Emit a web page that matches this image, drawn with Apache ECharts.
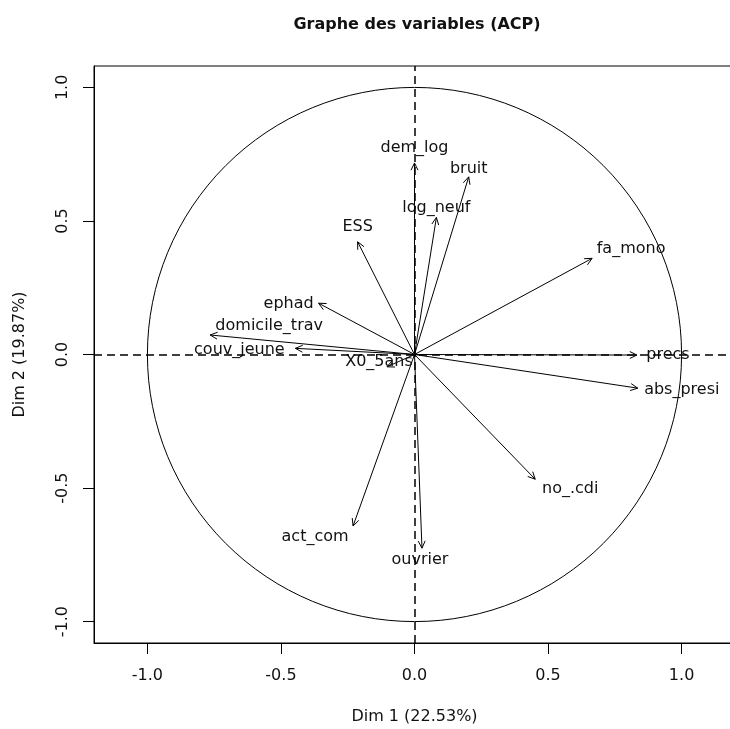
<!DOCTYPE html>
<html>
<head>
<meta charset="utf-8">
<script src="https://cdn.jsdelivr.net/npm/echarts@6/dist/echarts.min.js"></script>
<style>
  html, body { margin: 0; padding: 0; background: #fff; }
  #chart { width: 730px; height: 729px; }
</style>
</head>
<body>
<div id="chart"></div>
<script>
// variable coordinates on the first two PCA dimensions
const varNames = ['dem_log', 'bruit', 'log_neuf', 'ESS', 'fa_mono', 'precs', 'abs_presi',
  'no_.cdi', 'ouvrier', 'act_com', 'X0_5ans', 'couv_jeune', 'domicile_trav', 'ephad']
const dim1 = [0.0, 0.203, 0.082, -0.213, 0.665, 0.833, 0.836, 0.452, 0.028, -0.23, -0.103, -0.446, -0.765, -0.359]
const dim2 = [0.717, 0.665, 0.513, 0.422, 0.36, -0.002, -0.126, -0.467, -0.725, -0.642, -0.046, 0.023, 0.073, 0.192]
const tickValues = [-1, -0.5, 0, 0.5, 1]
const chartTitle = 'Graphe des variables (ACP)'
const xName = 'Dim 1 (22.53%)'
const yName = 'Dim 2 (19.87%)'

// label placement, px from the arrow tip (style only)
const labelShift = {
  dem_log: [0, -15], bruit: [0, -8], log_neuf: [0, -10], ESS: [0, -15],
  fa_mono: [39, -9], precs: [31, 0], abs_presi: [44, 2], 'no_.cdi': [35, 10],
  ouvrier: [-2, 12], act_com: [-38, 11], X0_5ans: [-8, -5], couv_jeune: [-56, 1],
  domicile_trav: [59, -9], ephad: [-30, 1],
}

const FONT = '"DejaVu Sans", sans-serif'
const arrowData = varNames.map((n, i) => [dim1[i], dim2[i], n])

function renderArrow(params, api) {
  const o = api.coord([0, 0])
  const p = api.coord([api.value(0), api.value(1)])
  const name = varNames[params.dataIndex]
  const ang = Math.atan2(p[1] - o[1], p[0] - o[0])
  const hl = 8, ha = Math.PI / 7
  const h1 = [p[0] - hl * Math.cos(ang - ha), p[1] - hl * Math.sin(ang - ha)]
  const h2 = [p[0] - hl * Math.cos(ang + ha), p[1] - hl * Math.sin(ang + ha)]
  const sh = labelShift[name] || [0, 0]
  return {
    type: 'group',
    children: [
      { type: 'line', shape: { x1: o[0], y1: o[1], x2: p[0], y2: p[1] },
        style: { stroke: '#000', lineWidth: 1 } },
      { type: 'polyline', shape: { points: [h1, p, h2] },
        style: { stroke: '#000', lineWidth: 1, fill: null } },
      { type: 'text',
        style: { text: name, x: p[0] + sh[0], y: p[1] + sh[1], fill: '#111',
          font: '16px ' + FONT, align: 'center', verticalAlign: 'middle' } },
    ],
  }
}

function renderCircle(params, api) {
  const c = api.coord([0, 0])
  const r = api.size([1, 0])[0]
  return { type: 'circle', shape: { cx: c[0], cy: c[1], r: r },
    style: { fill: null, stroke: '#000', lineWidth: 1 } }
}

const axisCommon = {
  type: 'value',
  nameLocation: 'middle',
  nameTextStyle: { color: '#111', fontSize: 16, fontFamily: FONT },
  axisLine: { show: true, onZero: false, lineStyle: { color: '#000', width: 1 } },
  axisTick: { show: true, length: 11, customValues: tickValues, lineStyle: { color: '#000' } },
  splitLine: { show: false },
}

const option = {
  animation: false,
  backgroundColor: '#fff',
  title: {
    text: chartTitle, left: 412, top: 12, textAlign: 'center',
    textStyle: { fontSize: 16, fontWeight: 'bold', color: '#111', fontFamily: FONT },
  },
  grid: {
    left: 94, top: 66, width: 641, height: 577, outerBoundsMode: 'none',
    show: true, borderColor: '#000', borderWidth: 1,
  },
  xAxis: Object.assign({}, axisCommon, {
    min: -1.2, max: 1.2, name: xName, nameGap: 66,
    axisLabel: { customValues: tickValues, margin: 25, color: '#111', fontSize: 16, fontFamily: FONT,
      formatter: (v) => v.toFixed(1) },
  }),
  yAxis: Object.assign({}, axisCommon, {
    min: -1.08, max: 1.08, name: yName, nameGap: 66,
    axisLabel: { customValues: tickValues, margin: 23, rotate: 90, color: '#111', fontSize: 16, fontFamily: FONT,
      formatter: (v) => v.toFixed(1) },
  }),
  series: [
    {
      type: 'custom', name: 'circle', data: [[0, 0]], renderItem: renderCircle, silent: true,
      markLine: {
        silent: true, symbol: 'none', label: { show: false },
        lineStyle: { type: [8, 5], color: '#000', width: 1.5 },
        data: [{ xAxis: 0 }, { yAxis: 0 }],
      },
    },
    { type: 'custom', name: 'variables', data: arrowData, renderItem: renderArrow, silent: true },
  ],
}

const chart = echarts.init(document.getElementById('chart'))
chart.setOption(option)
</script>
</body>
</html>
